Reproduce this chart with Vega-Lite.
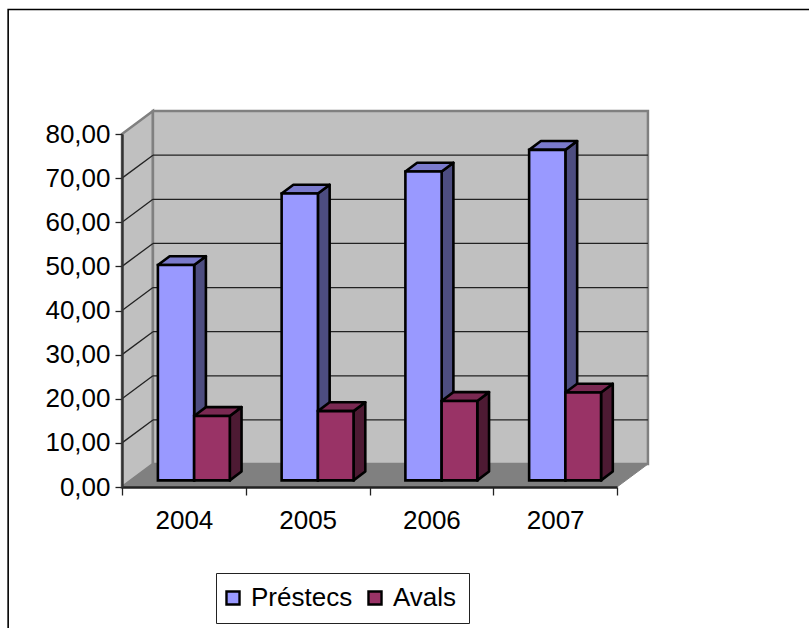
{
"$schema":"https://vega.github.io/schema/vega-lite/v6.json",
"width":495,"height":353,
"autosize":"none",
"padding":{"left":122,"top":134,"right":192,"bottom":141},
"background":"white",
"config":{"view":{"stroke":null},"font":"Liberation Sans"},
"datasets":{
"bars":[
{"year":2004,"series":"Préstecs","value":48.8},
{"year":2004,"series":"Avals","value":14.6},
{"year":2005,"series":"Préstecs","value":65.0},
{"year":2005,"series":"Avals","value":15.7},
{"year":2006,"series":"Préstecs","value":70.0},
{"year":2006,"series":"Avals","value":18.0},
{"year":2007,"series":"Préstecs","value":74.9},
{"year":2007,"series":"Avals","value":19.9}
],
"grid":[{"v":0},{"v":10},{"v":20},{"v":30},{"v":40},{"v":50},{"v":60},{"v":70},{"v":80}]
},
"layer":[
{"data":{"values":[{"x0":2003.08,"x1":2010,"y0":108.2,"y1":-40}]},
 "mark":{"type":"rect","fill":"white","stroke":"black","strokeWidth":1.6,"clip":false},
 "encoding":{"x":{"field":"x0","type":"quantitative","scale":{"domain":[2004,2008],"nice":false,"zero":false},
   "axis":{"values":[2004,2005,2006,2007,2008],"title":null,"grid":false,"labelExpr":"datum.value<2008?format(datum.value,'d'):''","labelOffset":61.9,"labelFontSize":26,"labelColor":"black","labelPadding":12,"labelBound":false,"labelFlush":false,"labelOverlap":false,"tickSize":8,"tickColor":"#222","tickWidth":1.3,"domainColor":"#222","domainWidth":2.4,"zindex":1}},
  "x2":{"field":"x1"},
  "y":{"field":"y0","type":"quantitative","scale":{"domain":[0,80],"nice":false,"zero":false},
   "axis":{"values":[0,10,20,30,40,50,60,70,80],"title":null,"grid":false,"labelExpr":"replace(format(datum.value,'.2f'),'.',',')","labelFontSize":26,"labelColor":"black","labelPadding":5,"labelBound":false,"labelFlush":false,"labelOverlap":false,"tickSize":7,"tickColor":"#222","tickWidth":1.3,"domainColor":"#333","domainWidth":2.4,"zindex":1}},
  "y2":{"field":"y1"}}},
{"data":{"values":[{"x":2004,"a":0,"b":80},{"x":2004.25,"a":5.2,"b":85.2}]},
 "mark":{"type":"area","fill":"#C0C0C0","stroke":"#808080","strokeWidth":2.5,"opacity":1},
 "encoding":{"x":{"field":"x","type":"quantitative"},"y":{"field":"b","type":"quantitative"},"y2":{"field":"a"}}},
{"data":{"values":[{"x0":2004.25,"x1":2008.25,"a":5.2,"b":85.2}]},
 "mark":{"type":"rect","fill":"#C0C0C0","stroke":"#808080","strokeWidth":2.5},
 "encoding":{"x":{"field":"x0","type":"quantitative"},"x2":{"field":"x1"},"y":{"field":"b","type":"quantitative"},"y2":{"field":"a"}}},
{"data":{"values":[{"y":0,"x0":2004,"x1":2008},{"y":5.2,"x0":2004.25,"x1":2008.25}]},
 "mark":{"type":"area","orient":"horizontal","fill":"#808080","stroke":"#808080","strokeWidth":1,"opacity":1},
 "encoding":{"y":{"field":"y","type":"quantitative"},"x":{"field":"x0","type":"quantitative"},"x2":{"field":"x1"}}},
{"data":{"name":"grid"},
 "transform":[{"filter":"datum.v>0 && datum.v<80"},{"calculate":"datum.v+5.2","as":"vb"},{"calculate":"2004.25","as":"xb"},{"calculate":"2008.25","as":"xe"}],
 "mark":{"type":"rule","color":"#222","strokeWidth":1.3},
 "encoding":{"x":{"field":"xb","type":"quantitative"},"x2":{"field":"xe"},"y":{"field":"vb","type":"quantitative"}}},
{"data":{"name":"grid"},
 "transform":[{"filter":"datum.v>0 && datum.v<80"},{"calculate":"datum.v+5.2","as":"vb"},{"calculate":"2004","as":"xf"},{"calculate":"2004.25","as":"xb"}],
 "mark":{"type":"rule","color":"#222","strokeWidth":1.3},
 "encoding":{"x":{"field":"xf","type":"quantitative"},"x2":{"field":"xb"},"y":{"field":"v","type":"quantitative"},"y2":{"field":"vb"}}},

{"data":{"name":"bars"},
 "transform":[{"filter":"datum.series=='Préstecs'"},{"calculate":"datum.year+0.29+0.293","as":"xb"},{"calculate":"[0,1]","as":"t"},{"flatten":["t"]},{"calculate":"datum.xb+datum.t*0.095","as":"px"},{"calculate":"datum.value+1.5+datum.t*2","as":"up"},{"calculate":"1.5+datum.t*2","as":"lo"}],
 "mark":{"type":"area","fill":"#4D4D80","stroke":"black","strokeWidth":2.6,"strokeJoin":"round","opacity":1},
 "encoding":{"detail":{"field":"year"},"x":{"field":"px","type":"quantitative"},"y":{"field":"up","type":"quantitative"},"y2":{"field":"lo"}}},
{"data":{"name":"bars"},
 "transform":[{"filter":"datum.series=='Préstecs'"},{"calculate":"datum.year+0.29","as":"xa"},{"calculate":"[0,1]","as":"t"},{"flatten":["t"]},{"calculate":"datum.xa+datum.t*0.095","as":"pa"},{"calculate":"datum.xa+0.293+datum.t*0.095","as":"pb"},{"calculate":"datum.value+1.5+datum.t*2","as":"up"}],
 "mark":{"type":"area","orient":"horizontal","fill":"#7A7ACC","stroke":"black","strokeWidth":2.6,"strokeJoin":"round","opacity":1},
 "encoding":{"detail":{"field":"year"},"y":{"field":"up","type":"quantitative"},"x":{"field":"pa","type":"quantitative"},"x2":{"field":"pb"}}},
{"data":{"name":"bars"},
 "transform":[{"filter":"datum.series=='Préstecs'"},{"calculate":"datum.year+0.29","as":"xa"},{"calculate":"datum.xa+0.293","as":"xb"},{"calculate":"datum.value+1.5","as":"up"},{"calculate":"1.5","as":"lo"}],
 "mark":{"type":"rect","stroke":"black","strokeWidth":2.6,"opacity":1},
 "encoding":{"x":{"field":"xa","type":"quantitative"},"x2":{"field":"xb"},"y":{"field":"up","type":"quantitative"},"y2":{"field":"lo"},
  "color":{"field":"series","type":"nominal","scale":{"domain":["Préstecs","Avals"],"range":["#9999FF","#993366"]},
   "legend":{"title":null,"orient":"none","legendX":94,"legendY":439,"direction":"horizontal","columns":2,"symbolType":"square","symbolSize":170,"symbolOffset":-8,"symbolStrokeColor":"black","symbolStrokeWidth":2.4,"labelFontSize":26,"labelColor":"black","labelLimit":200,"fillColor":"white","strokeColor":"#222","padding":12,"columnPadding":10,"labelOffset":5,"rowPadding":0}}}},

{"data":{"name":"bars"},
 "transform":[{"filter":"datum.series=='Avals'"},{"calculate":"datum.year+0.583+0.288","as":"xb"},{"calculate":"[0,1]","as":"t"},{"flatten":["t"]},{"calculate":"datum.xb+datum.t*0.095","as":"px"},{"calculate":"datum.value+1.5+datum.t*2","as":"up"},{"calculate":"1.5+datum.t*2","as":"lo"}],
 "mark":{"type":"area","fill":"#4D1A33","stroke":"black","strokeWidth":2.6,"strokeJoin":"round","opacity":1},
 "encoding":{"detail":{"field":"year"},"x":{"field":"px","type":"quantitative"},"y":{"field":"up","type":"quantitative"},"y2":{"field":"lo"}}},
{"data":{"name":"bars"},
 "transform":[{"filter":"datum.series=='Avals'"},{"calculate":"datum.year+0.583","as":"xa"},{"calculate":"[0,1]","as":"t"},{"flatten":["t"]},{"calculate":"datum.xa+datum.t*0.095","as":"pa"},{"calculate":"datum.xa+0.288+datum.t*0.095","as":"pb"},{"calculate":"datum.value+1.5+datum.t*2","as":"up"}],
 "mark":{"type":"area","orient":"horizontal","fill":"#7A2952","stroke":"black","strokeWidth":2.6,"strokeJoin":"round","opacity":1},
 "encoding":{"detail":{"field":"year"},"y":{"field":"up","type":"quantitative"},"x":{"field":"pa","type":"quantitative"},"x2":{"field":"pb"}}},
{"data":{"name":"bars"},
 "transform":[{"filter":"datum.series=='Avals'"},{"calculate":"datum.year+0.583","as":"xa"},{"calculate":"datum.xa+0.288","as":"xb"},{"calculate":"datum.value+1.5","as":"up"},{"calculate":"1.5","as":"lo"}],
 "mark":{"type":"rect","stroke":"black","strokeWidth":2.6,"opacity":1},
 "encoding":{"x":{"field":"xa","type":"quantitative"},"x2":{"field":"xb"},"y":{"field":"up","type":"quantitative"},"y2":{"field":"lo"},
  "color":{"field":"series","type":"nominal"}}}
]
}
